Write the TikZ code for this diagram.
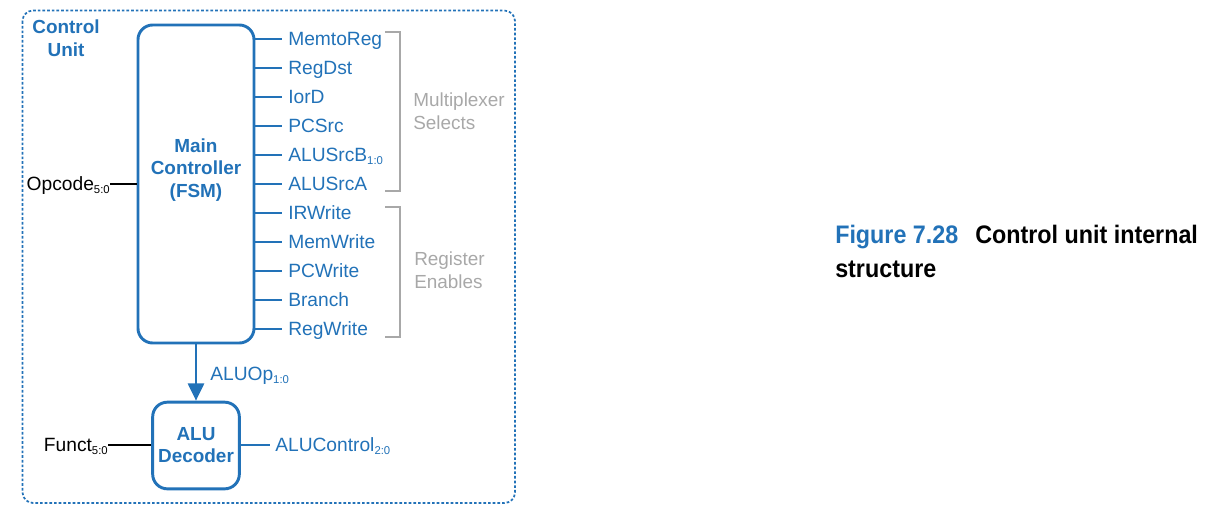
\documentclass[tikz,border=0pt]{standalone}
\usepackage{fontspec}
\setmainfont{Liberation Sans}
\newfontfamily\capfont[FakeStretch=0.92]{Liberation Sans}
\usetikzlibrary{arrows.meta}
\definecolor{cublue}{HTML}{2272B8}
\definecolor{cugray}{HTML}{A8A8A8}
\newcommand{\sbs}[1]{\raisebox{-2.2pt}{\fontsize{8.5}{9}\selectfont #1}}
\begin{document}
\begin{tikzpicture}[x=0.75pt,y=-0.75pt,
  sig/.style={anchor=west, inner sep=0pt, text height=10pt, text depth=0pt,
              font=\fontsize{14.4}{17}\selectfont, text=cublue},
  blk/.style={anchor=east, inner sep=0pt, text height=10pt, text depth=0pt,
              font=\fontsize{14.4}{17}\selectfont, text=black},
  wire/.style={cublue, line width=1.4pt},
  bwire/.style={black, line width=1.8pt},
  boxst/.style={draw=cublue, line width=2.2pt, rounded corners=11pt, inner sep=0pt},
  boldlbl/.style={text=cublue, font=\bfseries\fontsize{14.2}{17}\selectfont, align=center, inner sep=0pt},
  graylbl/.style={text=cugray, font=\fontsize{14.2}{17}\selectfont, align=left, anchor=west, inner sep=0pt},
  bracket/.style={cugray, line width=1.6pt},
  border/.style={cublue, line width=1.3pt, dash pattern=on 2pt off 1.5pt, rounded corners=8pt},
  capst/.style={anchor=base west, inner sep=0pt, font=\capfont\bfseries\fontsize{19}{23}\selectfont}
]
\useasboundingbox (0,0) rectangle (1225,515);

% control unit border
\draw[border] (22.5,10.5) rectangle (515,503);
\node[boldlbl] (cutitle) at (66,38) {Control\\Unit};

% main controller
\node[boxst, minimum width=87pt, minimum height=238.5pt] (mc) at (196,184) {};
\node[boldlbl] (mctext) at (196,170) {Main\\Controller\\(FSM)};

% ALU decoder
\node[boxst, minimum width=65pt, minimum height=65pt] (alu) at (196,445.5) {};
\node[boldlbl] (alutext) at (196,445) {ALU\\Decoder};

% outputs of main controller
\node[sig] (s1) at (288,39) {MemtoReg};
\node[sig] (s2) at (288,68) {RegDst};
\node[sig] (s3) at (288,97) {IorD};
\node[sig] (s4) at (288,126) {PCSrc};
\node[sig] (s5) at (288,155) {ALUSrcB\sbs{1:0}};
\node[sig] (s6) at (288,184) {ALUSrcA};
\node[sig] (s7) at (288,213) {IRWrite};
\node[sig] (s8) at (288,242) {MemWrite};
\node[sig] (s9) at (288,271) {PCWrite};
\node[sig] (s10) at (288,300) {Branch};
\node[sig] (s11) at (288,329) {RegWrite};
\foreach \i in {1,...,11}{
  \draw[wire] (mc.east |- s\i.west) -- ([xshift=-4.5pt]s\i.west);
}

% brackets
\draw[bracket] (385,32) -- (400,32) -- (400,191) -- (385,191);
\draw[bracket] (385,207) -- (400,207) -- (400,337) -- (385,337);
\node[graylbl] (muxsel) at (413,111.5) {Multiplexer\\Selects};
\node[graylbl] (regen) at (414,270.5) {Register\\Enables};

% opcode input
\node[blk] (op) at (110,184) {Opcode\sbs{5:0}};
\draw[bwire] (op.east) -- (mc.west |- op.east);

% ALUOp
\draw[cublue, line width=2.2pt, -{Triangle[length=13pt,width=12pt]}] (mc.south) -- (alu.north);
\node[sig] (aluop) at (210,374) {ALUOp\sbs{1:0}};

% funct input
\node[blk] (fn) at (108,445) {Funct\sbs{5:0}};
\draw[bwire] (fn.east) -- (alu.west |- fn.east);

% ALUControl
\node[sig] (ac) at (275,445) {ALUControl\sbs{2:0}};
\draw[wire] (alu.east |- ac.west) -- ([xshift=-3.75pt]ac.west);

% caption
\node[capst, text=cublue] (fig) at (835,243) {Figure 7.28};
\node[capst, text=black] (cap1) at (975,243) {Control unit internal};
\node[capst, text=black] (cap2) at (835,277) {structure};
\end{tikzpicture}
\end{document}
